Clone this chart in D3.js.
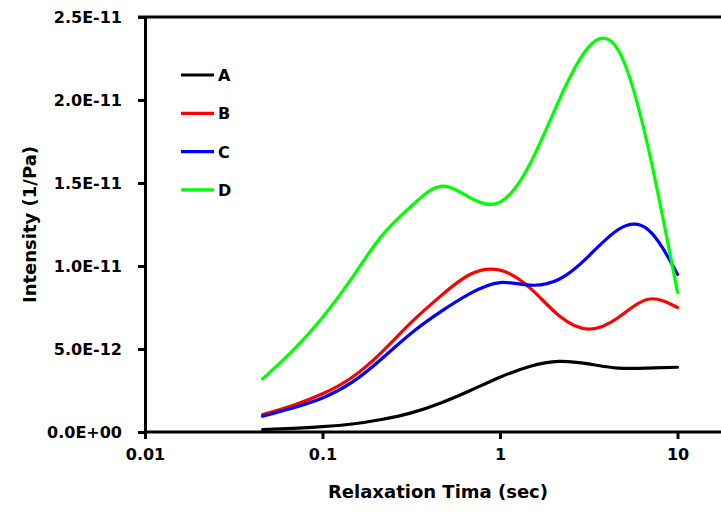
<!DOCTYPE html>
<html>
<head>
<meta charset="utf-8">
<script src="https://cdn.jsdelivr.net/npm/d3@7"></script>
<style>
  body { margin: 0; background: #fff; }
  svg { display: block; font-family: "DejaVu Sans", sans-serif; font-weight: bold; }
</style>
</head>
<body>
<div id="chart"></div>
<script>
// relaxation time (sec), six points per decade
const times = [0.046, 0.068, 0.1, 0.147, 0.215, 0.316, 0.464, 0.681, 1, 1.468, 2.154, 3.162, 4.642, 6.813, 10];
// intensity, in units of 1E-12 1/Pa
const seriesA = [0.15, 0.22, 0.32, 0.48, 0.75, 1.15, 1.75, 2.5, 3.3, 3.95, 4.25, 4.1, 3.85, 3.85, 3.9];
const seriesB = [1.05, 1.6, 2.3, 3.3, 4.8, 6.6, 8.2, 9.5, 9.75, 8.7, 7.0, 6.2, 6.9, 8.0, 7.5];
const seriesC = [0.95, 1.45, 2.05, 3.0, 4.4, 5.95, 7.25, 8.35, 9.0, 8.85, 9.2, 10.6, 12.2, 12.2, 9.5];
const seriesD = [3.2, 4.9, 6.9, 9.3, 11.8, 13.6, 14.8, 14.1, 13.85, 16.1, 20.0, 23.2, 23.0, 17.2, 8.4];
const seriesNames = ['A', 'B', 'C', 'D'];
const seriesColors = ['#000000', '#ff0000', '#0000ff', '#00ff00'];
const xTicks = [0.01, 0.1, 1, 10, 100];
const xTickLabels = ['0.01', '0.1', '1', '10', ''];
const yTicks = [0, 5, 10, 15, 20, 25];
const yTickLabels = ['0.0E+00', '5.0E-12', '1.0E-11', '1.5E-11', '2.0E-11', '2.5E-11'];

const width = 721, height = 513;
const margin = { left: 145, top: 17, bottom: 81 };

const svg = d3.select('#chart')
  .append('svg')
  .attr('width', width)
  .attr('height', height);

// log x axis runs past the right edge (100 is off screen)
const x = d3.scaleLog()
  .domain([0.01, 100])
  .range([margin.left, margin.left + 4 * 177.5]);
const y = d3.scaleLinear()
  .domain([0, 25])
  .range([height - margin.bottom, margin.top]);

// top border
svg.append('line')
  .attr('x1', margin.left - 7).attr('x2', width)
  .attr('y1', y(25)).attr('y2', y(25))
  .attr('stroke', '#000').attr('stroke-width', 3);

// x axis
const xAxis = svg.append('g')
  .attr('transform', `translate(0,${y(0)})`)
  .call(d3.axisBottom(x).tickValues(xTicks).tickFormat((d, i) => xTickLabels[i]).tickSize(7).tickSizeOuter(0).tickPadding(10));
xAxis.select('.domain').attr('d', `M${margin.left},0H${width}`);

// y axis
const yAxis = svg.append('g')
  .attr('transform', `translate(${margin.left},0)`)
  .call(d3.axisLeft(y).tickValues(yTicks).tickFormat((d, i) => yTickLabels[i]).tickSize(7).tickSizeOuter(0).tickPadding(16));

svg.selectAll('.domain, .tick line')
  .attr('stroke', '#000')
  .attr('stroke-width', 3);
svg.selectAll('.tick text')
  .attr('font-family', '"DejaVu Sans", sans-serif')
  .attr('font-weight', 'bold')
  .attr('font-size', 16)
  .attr('fill', '#000');

// axis titles
svg.append('text')
  .attr('x', 438)
  .attr('y', 498)
  .attr('text-anchor', 'middle')
  .attr('font-size', 18)
  .text('Relaxation Tima (sec)');
svg.append('text')
  .attr('transform', `translate(36,${(y(0) + y(25)) / 2}) rotate(-90)`)
  .attr('text-anchor', 'middle')
  .attr('font-size', 18)
  .text('Intensity (1/Pa)');

// lines, smoothed like the spreadsheet
const series = [seriesA, seriesB, seriesC, seriesD];
const line = d3.line()
  .x(d => x(d[0]))
  .y(d => y(d[1]))
  .curve(d3.curveNatural);

series.forEach((vals, i) => {
  svg.append('path')
    .datum(times.map((t, j) => [t, vals[j]]))
    .attr('d', line)
    .attr('fill', 'none')
    .attr('stroke', seriesColors[i])
    .attr('stroke-width', 3.2)
    .attr('stroke-linecap', 'round');
});

// legend
const legend = svg.append('g').attr('class', 'legend');
seriesNames.forEach((name, i) => {
  const ly = 75 + i * 38.3;
  legend.append('line')
    .attr('x1', 181).attr('x2', 214)
    .attr('y1', ly).attr('y2', ly)
    .attr('stroke', seriesColors[i])
    .attr('stroke-width', 3.2);
  legend.append('text')
    .attr('x', 218)
    .attr('y', ly + 6)
    .attr('font-size', 16)
    .text(name);
});
</script>
</body>
</html>
